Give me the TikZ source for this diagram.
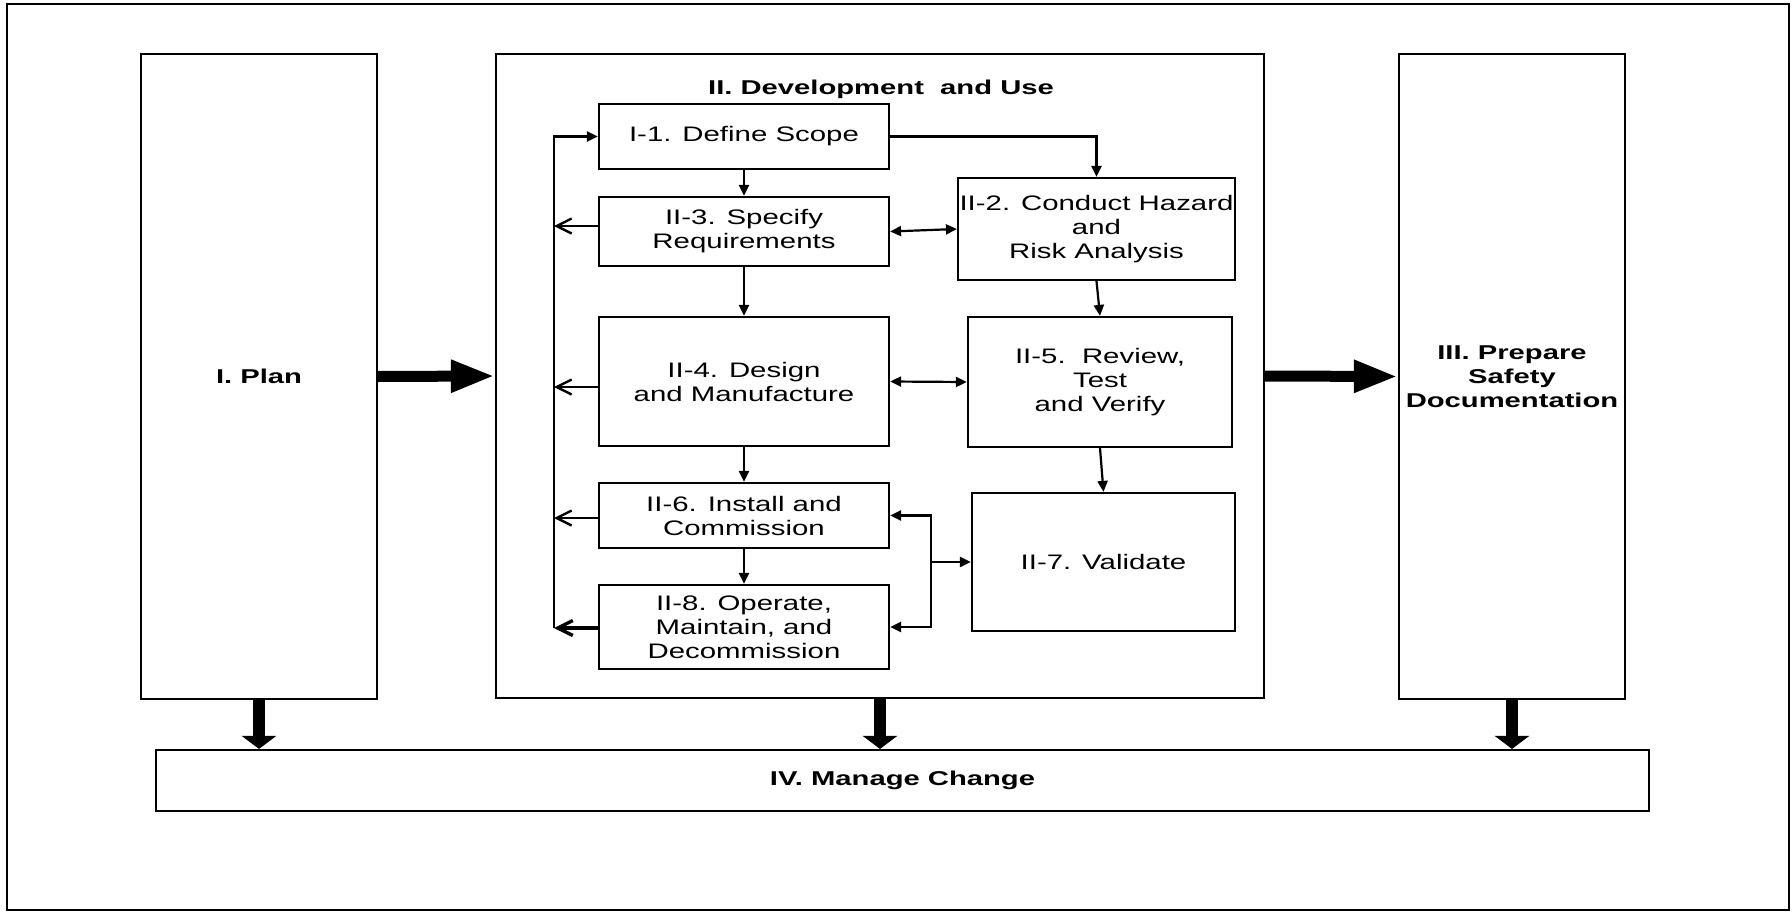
\documentclass[tikz,border=0pt]{standalone}
\usepackage{fontspec}
\setmainfont{Liberation Sans}
\newfontfamily\regf[FakeStretch=1.4]{Liberation Sans}
\newfontfamily\bldf[FakeStretch=1.46]{Liberation Sans}
\usetikzlibrary{arrows.meta,calc}
\begin{document}
\begin{tikzpicture}[x=1pt,y=-1pt,
  box/.style={draw,line width=2.2pt,inner sep=0pt,align=center,font=\regf\fontsize{21}{24}\selectfont},
  bigbox/.style={draw,line width=2.2pt,inner sep=0pt,align=center,font=\bldf\bfseries\fontsize{20}{24}\selectfont},
  conn/.style={line width=2.2pt,-{Triangle[length=11pt,width=10pt]}},
  dbl/.style={line width=2.2pt,{Triangle[length=11pt,width=10pt]}-{Triangle[length=11pt,width=10pt]}},
  fb/.style={line width=2.4pt,-{Straight Barb[length=15pt,width=15pt]}},
  fat/.style={line width=11pt,-{Triangle[length=44pt,width=30pt]}},
  fatdown/.style={line width=12pt,-{Triangle[length=13pt,width=34pt]}}]
\useasboundingbox (0,0) rectangle (1792,913);
\draw[line width=2.4pt] (7,4) rectangle (1789,910);

% big boxes
\node[bigbox,minimum width=236pt,minimum height=645pt] (plan) at (259,376.5) {I. Plan};
\node[bigbox,minimum width=768pt,minimum height=644pt] (dev) at (880,376) {};
\node[bigbox,minimum width=226pt,minimum height=645pt] (safe) at (1512,376.5) {III. Prepare\\Safety\\Documentation};
\node[bigbox,minimum width=1493pt,minimum height=61pt] (mc) at (902.5,780.5) {IV. Manage Change};
\node[font=\bldf\bfseries\fontsize{20}{24}\selectfont,inner sep=0pt] (title) at (881,89.5) {II. Development\ \ and Use};

% inner boxes
\node[box,minimum width=290pt,minimum height=65pt] (def) at (744,136.5) {I-1. Define Scope};
\node[box,minimum width=290pt,minimum height=69pt] (spec) at (744,231.5) {II-3. Specify\\Requirements};
\node[box,minimum width=277pt,minimum height=102pt] (haz) at (1096.5,229) {II-2. Conduct Hazard\\and\\Risk Analysis};
\node[box,minimum width=290pt,minimum height=129pt] (des) at (744,381.5) {II-4. Design\\and Manufacture};
\node[box,minimum width=264pt,minimum height=130pt] (rev) at (1100,382) {II-5.\ \ Review,\\Test\\and Verify};
\node[box,minimum width=290pt,minimum height=65pt] (inst) at (744,515.5) {II-6. Install and\\Commission};
\node[box,minimum width=290pt,minimum height=84pt] (oper) at (744,627) {II-8. Operate,\\Maintain, and\\Decommission};
\node[box,minimum width=263pt,minimum height=138pt] (val) at (1103.5,562) {II-7. Validate};

% inner connectors
\draw[conn] (def.east) -| (haz.north);
\draw[conn] (def.south) -- (spec.north);
\draw[conn] (spec.south) -- (des.north);
\draw[conn] (des.south) -- (inst.north);
\draw[conn] (inst.south) -- (oper.north);
\draw[dbl] (spec.east) -- (haz.west);
\draw[dbl] (des.east) -- (rev.west);
\draw[conn] (haz.south) -- (rev.north);
\draw[conn] (rev.south) -- (val.north);

\coordinate (bx) at (931,0);
\draw[dbl] (inst.east) -- (inst.east -| bx) -- (oper.east -| bx) -- (oper.east);
\draw[conn] (val.west -| bx) -- (val.west);

% feedback line
\coordinate (lx) at (554,0);
\draw[conn] ([yshift=-1pt]oper.west -| lx) -- (def.west -| lx) -- (def.west);
\draw[fb] ([yshift=5.5pt]spec.west) -- ([yshift=5.5pt]spec.west -| lx);
\draw[fb] ([yshift=-5.5pt]des.west) -- ([yshift=-5.5pt]des.west -| lx);
\draw[fb] ([yshift=-2.5pt]inst.west) -- ([yshift=-2.5pt]inst.west -| lx);
\draw[fb,line width=3.4pt] ([yshift=-1pt]oper.west) -- ([yshift=-1pt]oper.west -| lx);

% thick arrows
\draw[fat] (plan.east) -- (dev.west);
\draw[fat] (dev.east) -- (safe.west);
\draw[fatdown] (plan.south) -- (plan.south |- mc.north);
\draw[fatdown] (dev.south) -- (dev.south |- mc.north);
\draw[fatdown] (safe.south) -- (safe.south |- mc.north);
\end{tikzpicture}
\end{document}
